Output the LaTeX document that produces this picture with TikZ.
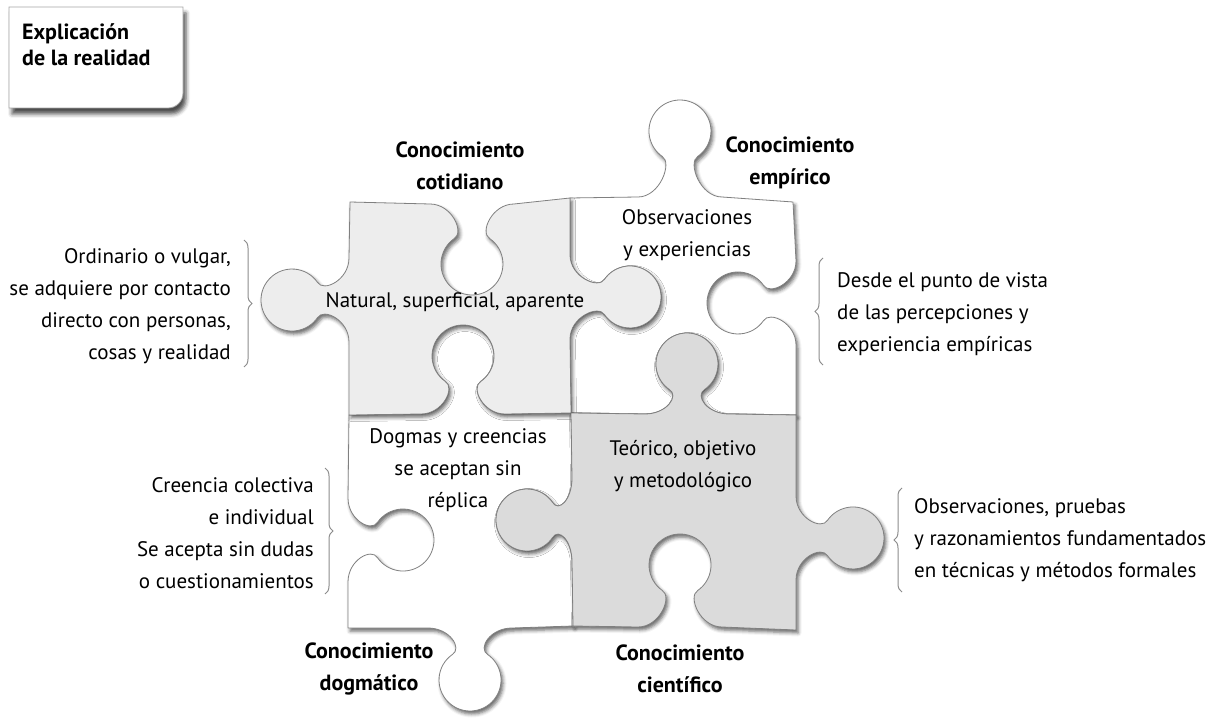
\documentclass[tikz,border=0pt]{standalone}
\usepackage{fontspec}
\setmainfont{PT Sans}
\usetikzlibrary{decorations.pathreplacing, shadows.blur}

% knob on a horizontal edge: centre x, edge y, side (+1 down/-1 up), run (+1 right/-1 left), depth
\newcommand{\hknob}[5]{-- ({#1-(#4)*42},#2)
  .. controls ({#1-(#4)*20},#2) and ({#1-(#4)*7.4},{#2+(#3)*(#5-31.5)}) .. ({#1-(#4)*17.8},{#2+(#3)*(#5-25.4)})
  arc[start angle={180+90*(#3)-35*(#3)*(#4)}, delta angle={-290*(#3)*(#4)}, radius=31]
  .. controls ({#1+(#4)*7.4},{#2+(#3)*(#5-31.5)}) and ({#1+(#4)*20},#2) .. ({#1+(#4)*42},#2)}
% knob on a vertical edge: centre y, edge x, side (+1 right/-1 left), run (+1 down/-1 up), depth
\newcommand{\vknob}[5]{-- (#2,{#1-(#4)*42})
  .. controls (#2,{#1-(#4)*20}) and ({#2+(#3)*(#5-31.5)},{#1-(#4)*7.4}) .. ({#2+(#3)*(#5-25.4)},{#1-(#4)*17.8})
  arc[start angle={90+90*(#3)+35*(#3)*(#4)}, delta angle={290*(#3)*(#4)}, radius=31]
  .. controls ({#2+(#3)*(#5-31.5)},{#1+(#4)*7.4}) and (#2,{#1+(#4)*20}) .. (#2,{#1+(#4)*42})}

\begin{document}
\begin{tikzpicture}[x=1pt, y=-1pt,
    piece/.style={draw=black!50, line width=0.8pt, line join=round,
      blur shadow={shadow xshift=2pt, shadow yshift=-3pt, shadow blur radius=3.5pt, shadow opacity=60}},
    titlebox/.style={draw=black!35, line width=0.8pt, fill=white,
      blur shadow={shadow xshift=3pt, shadow yshift=-6pt, shadow blur radius=4pt, shadow opacity=70}},
    txt/.style={font=\fontsize{21}{32}\selectfont, align=center, inner sep=0pt},
    ttl/.style={font=\bfseries\fontsize{22}{32}\selectfont, align=center, inner sep=0pt},
    head/.style={font=\bfseries\fontsize{22}{26}\selectfont, align=left, inner sep=0pt},
    curly/.style={decorate, decoration={brace, amplitude=8pt}, draw=black!45, line width=1pt}
  ]
  \useasboundingbox (0,0) rectangle (1221,719);

  % --- title card ---
  \path[titlebox] (9,7) -- (183,7) -- (183,93) arc[start angle=0, end angle=90, radius=15] -- (9,108) -- cycle;
  \node[head, anchor=west] (titulo) at (22,45) {Explicación\\de la realidad};

  % --- puzzle pieces (white ones first, shaded ones on top) ---
  % empirico
  \path[piece, fill=white] (570,198) \hknob{680}{197}{-1}{1}{66} -- (793,202)
    \vknob{303}{796}{-1}{1}{58} -- (796,415)
    \hknob{687}{414}{-1}{-1}{50} -- (571,413)
    \vknob{297}{570}{1}{-1}{60} -- cycle;
  % dogmatico
  \path[piece, fill=white] (349,415) \hknob{463}{414}{-1}{1}{58} -- (571,413)
    \vknob{520}{572}{-1}{1}{45} -- (573,626)
    \hknob{470}{628}{1}{-1}{52} -- (348,628)
    \vknob{540}{348}{1}{-1}{55} -- cycle;
  % cotidiano
  \path[piece, fill=black!7] (350,202) \hknob{472}{204}{1}{1}{60} -- (570,198)
    \vknob{297}{570}{1}{1}{60} -- (571,413)
    \hknob{463}{414}{-1}{-1}{58} -- (349,415)
    \vknob{300}{349}{-1}{-1}{57} -- cycle;
  % cientifico
  \path[piece, fill=black!14] (571,413) \hknob{687}{414}{-1}{1}{50} -- (796,415)
    \vknob{538}{796}{1}{1}{57} -- (796,630)
    \hknob{680}{627}{-1}{-1}{62} -- (573,626)
    \vknob{520}{572}{-1}{-1}{45} -- cycle;

  % --- piece titles ---
  \node[ttl] (cotidiano) at (460,166) {Conocimiento\\cotidiano};
  \node[ttl] (empirico) at (790,163) {Conocimiento\\empírico};
  \node[ttl] (dogmatico) at (369,669) {Conocimiento\\dogmático};
  \node[ttl] (cientifico) at (680,669) {Conocimiento\\científico};

  % --- text on the pieces ---
  \node[txt] (natural) at (455,302) {Natural, superficial, aparente};
  \node[txt] (observa) at (687,235) {Observaciones\\y experiencias};
  \node[txt] (dogmas) at (458,470) {Dogmas y creencias\\se aceptan sin\\réplica};
  \node[txt] (teorico) at (683,466) {Teórico, objetivo\\y metodológico};

  % --- side notes with braces ---
  \node[txt, align=right, anchor=east] (ordinario) at (231,306) {Ordinario o vulgar,\\se adquiere por contacto\\directo con personas,\\cosas y realidad};
  \node[txt, align=left, anchor=west] (desde) at (837,314) {Desde el punto de vista\\de las percepciones y\\experiencia empíricas};
  \node[txt, align=right, anchor=east] (creencia) at (314,533) {Creencia colectiva\\e individual\\Se acepta sin dudas\\o cuestionamientos};
  \node[txt, align=left, anchor=west] (pruebas) at (914,540) {Observaciones, pruebas\\y razonamientos fundamentados\\en técnicas y métodos formales};

  \coordinate (ordA) at (244,240); \coordinate (ordB) at (244,367);
  \coordinate (desA) at (823,365); \coordinate (desB) at (823,258);
  \coordinate (creA) at (325,468); \coordinate (creB) at (325,594);
  \coordinate (pruA) at (902,592); \coordinate (pruB) at (902,488);
  \draw[curly] (ordA) -- (ordB);
  \draw[curly] (desA) -- (desB);
  \draw[curly] (creA) -- (creB);
  \draw[curly] (pruA) -- (pruB);
\end{tikzpicture}
\end{document}
